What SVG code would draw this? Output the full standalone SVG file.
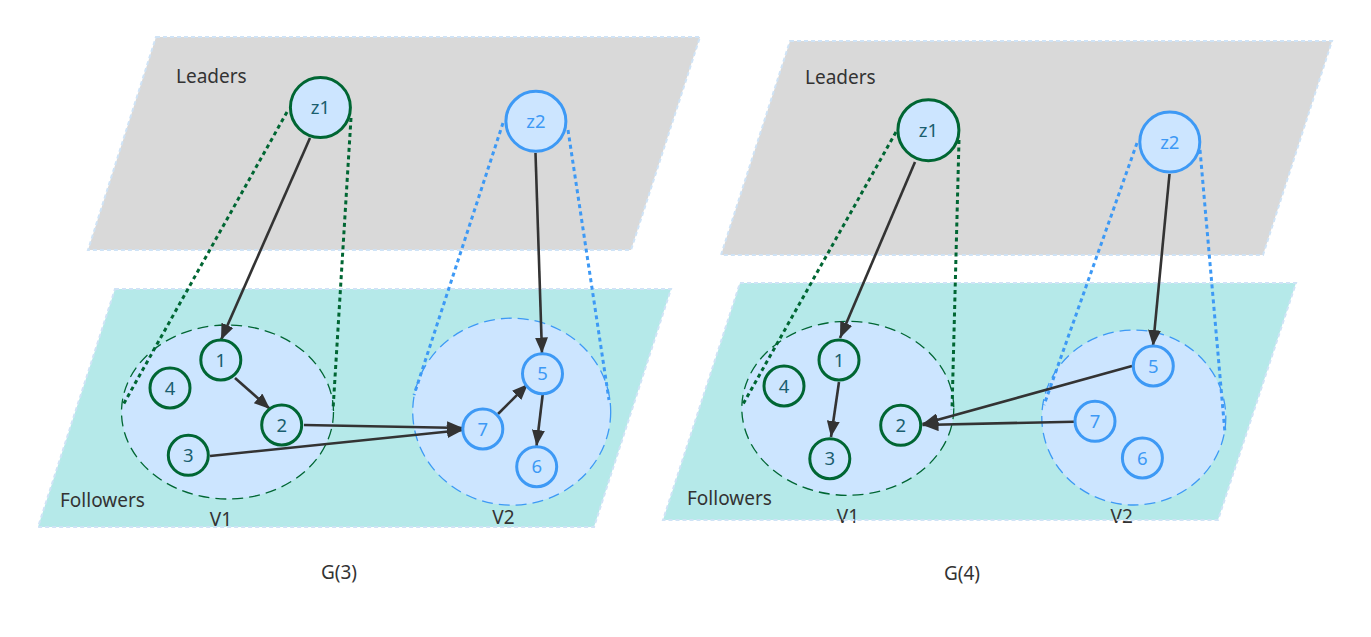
<svg xmlns="http://www.w3.org/2000/svg" width="1371" height="637" viewBox="0 0 1371 637">
<defs>
<style>
text{font-family:"Noto Sans","Open Sans","Liberation Sans",sans-serif}
.lead{fill:#d9d9d9}
.foll{fill:#b5e9e9}
.bord{fill:none;stroke:#cfe3f6;stroke-width:2;stroke-dasharray:4 3}
.lbl{font-size:19px;fill:#333333}
.vg{fill:#cce5ff;stroke:#006633;stroke-width:1.3;stroke-dasharray:11 6}
.vb{fill:#cce5ff;stroke:#3d99f5;stroke-width:1.3;stroke-dasharray:11 6}
.dg{fill:none;stroke:#006633;stroke-width:3;stroke-dasharray:4 3.5}
.db{fill:none;stroke:#3d99f5;stroke-width:3;stroke-dasharray:4 3.5}
.ng{fill:#cce5ff;stroke:#006633;stroke-width:3}
.nb{fill:#cce5ff;stroke:#3d99f5;stroke-width:3}
.tg{font-size:18.5px;fill:#1a5e6e;text-anchor:middle}
.tb{font-size:18.5px;fill:#3d99f5;text-anchor:middle}
.e{fill:none;stroke:#333333;stroke-width:2.6;marker-end:url(#ah)}
</style>
<marker id="ah" markerUnits="userSpaceOnUse" markerWidth="17" markerHeight="13" refX="16" refY="6.5" orient="auto">
<path d="M0,0 L16,6.5 L0,13 Z" fill="#333333"/>
</marker>
</defs>

<g id="layers-left">
<polygon class="lead" points="156,37 700,37 631,250 88,250"/>
<polygon class="bord" points="156,37 700,37 631,250 88,250"/>
<polygon class="foll" points="115,289 671,289 594,527 38,527"/>
<text class="lbl" x="176" y="83">Leaders</text>
<text class="lbl" x="60" y="506.5">Followers</text>
</g>
<g id="layers-right">
<polygon class="lead" points="790,41 1332,41 1263,255 721,255"/>
<polygon class="bord" points="790,41 1332,41 1263,255 721,255"/>
<polygon class="foll" points="740,283 1296,283 1218,520 663,520"/>
<text class="lbl" x="805" y="83.5">Leaders</text>
<text class="lbl" x="687" y="505">Followers</text>
</g>

<g id="V1-left"><ellipse class="vg" cx="227.5" cy="412" rx="106" ry="87"/><text class="lbl" x="221" y="526" text-anchor="middle">V1</text></g>
<g id="V2-left"><ellipse class="vb" cx="511.7" cy="411.7" rx="99" ry="93.5"/><text class="lbl" x="503.5" y="523.5" text-anchor="middle">V2</text></g>
<g id="V1-right"><ellipse class="vg" cx="847.8" cy="408.3" rx="106" ry="87"/><text class="lbl" x="848" y="523" text-anchor="middle">V1</text></g>
<g id="V2-right"><ellipse class="vb" cx="1133.8" cy="417.5" rx="92" ry="87.5"/><text class="lbl" x="1121.7" y="523" text-anchor="middle">V2</text></g>

<g id="borders-followers">
<polygon class="bord" points="115,289 671,289 594,527 38,527"/>
<polygon class="bord" points="740,283 1296,283 1218,520 663,520"/>
</g>

<g id="connectors">
<line class="dg" x1="287" y1="112" x2="123" y2="405"/>
<line class="dg" x1="351" y1="118" x2="333" y2="410"/>
<line class="db" x1="503" y1="123" x2="414" y2="395"/>
<line class="db" x1="568" y1="130" x2="609" y2="400"/>
<line class="dg" x1="896" y1="132" x2="742" y2="406"/>
<line class="dg" x1="959" y1="140" x2="952" y2="410"/>
<line class="db" x1="1137" y1="143" x2="1044" y2="405"/>
<line class="db" x1="1200" y1="150" x2="1225" y2="433"/>

<line class="e" x1="310" y1="138" x2="221" y2="340"/>
<line class="e" x1="235" y1="378" x2="270" y2="409"/>
<line class="e" x1="304" y1="425" x2="463" y2="428"/>
<line class="e" x1="210" y1="456" x2="463" y2="430"/>
<line class="e" x1="498" y1="414" x2="528" y2="384"/>
<line class="e" x1="535.5" y1="153" x2="542" y2="353.5"/>
<line class="e" x1="542.7" y1="394.5" x2="536.5" y2="446"/>

<line class="e" x1="915" y1="162" x2="840" y2="338"/>
<line class="e" x1="1169.5" y1="174" x2="1153" y2="346"/>
<line class="e" x1="839" y1="382" x2="831" y2="437"/>
<line class="e" x1="1132" y1="366" x2="922.5" y2="424"/>
<line class="e" x1="1074" y1="421.7" x2="922.5" y2="425"/>
</g>

<g id="L-z1"><circle class="ng" cx="320.4" cy="107.5" r="30"/><text class="tg" x="320.4" y="114">z1</text></g>
<g id="L-z2"><circle class="nb" cx="535.9" cy="121.3" r="30"/><text class="tb" x="535.9" y="127.8">z2</text></g>
<g id="L-n1"><circle class="ng" cx="220.8" cy="360" r="20"/><text class="tg" x="220.8" y="366.5">1</text></g>
<g id="L-n4"><circle class="ng" cx="170" cy="388" r="20"/><text class="tg" x="170" y="394.5">4</text></g>
<g id="L-n2"><circle class="ng" cx="281.7" cy="425" r="20"/><text class="tg" x="281.7" y="431.5">2</text></g>
<g id="L-n3"><circle class="ng" cx="188.3" cy="455.3" r="20"/><text class="tg" x="188.3" y="461.8">3</text></g>
<g id="L-n5"><circle class="nb" cx="542.5" cy="373.7" r="20"/><text class="tb" x="542.5" y="380.2">5</text></g>
<g id="L-n7"><circle class="nb" cx="482.8" cy="429" r="20"/><text class="tb" x="482.8" y="435.5">7</text></g>
<g id="L-n6"><circle class="nb" cx="536.7" cy="466.7" r="20"/><text class="tb" x="536.7" y="473.2">6</text></g>

<g id="R-z1"><circle class="ng" cx="928.4" cy="130.2" r="30.5"/><text class="tg" x="928.4" y="136.7">z1</text></g>
<g id="R-z2"><circle class="nb" cx="1169.8" cy="142" r="30"/><text class="tb" x="1169.8" y="148.5">z2</text></g>
<g id="R-n1"><circle class="ng" cx="839" cy="360" r="20"/><text class="tg" x="839" y="366.5">1</text></g>
<g id="R-n4"><circle class="ng" cx="784" cy="386" r="20"/><text class="tg" x="784" y="392.5">4</text></g>
<g id="R-n3"><circle class="ng" cx="829.8" cy="458.7" r="20"/><text class="tg" x="829.8" y="465.2">3</text></g>
<g id="R-n2"><circle class="ng" cx="900.7" cy="425.3" r="20"/><text class="tg" x="900.7" y="431.8">2</text></g>
<g id="R-n5"><circle class="nb" cx="1153.3" cy="366" r="20"/><text class="tb" x="1153.3" y="372.5">5</text></g>
<g id="R-n7"><circle class="nb" cx="1095" cy="421.3" r="20"/><text class="tb" x="1095" y="427.8">7</text></g>
<g id="R-n6"><circle class="nb" cx="1142.4" cy="458" r="20"/><text class="tb" x="1142.4" y="464.5">6</text></g>

<g id="captions">
<text class="lbl" x="339" y="579" text-anchor="middle">G(3)</text>
<text class="lbl" x="962" y="580" text-anchor="middle">G(4)</text>
</g>
</svg>
